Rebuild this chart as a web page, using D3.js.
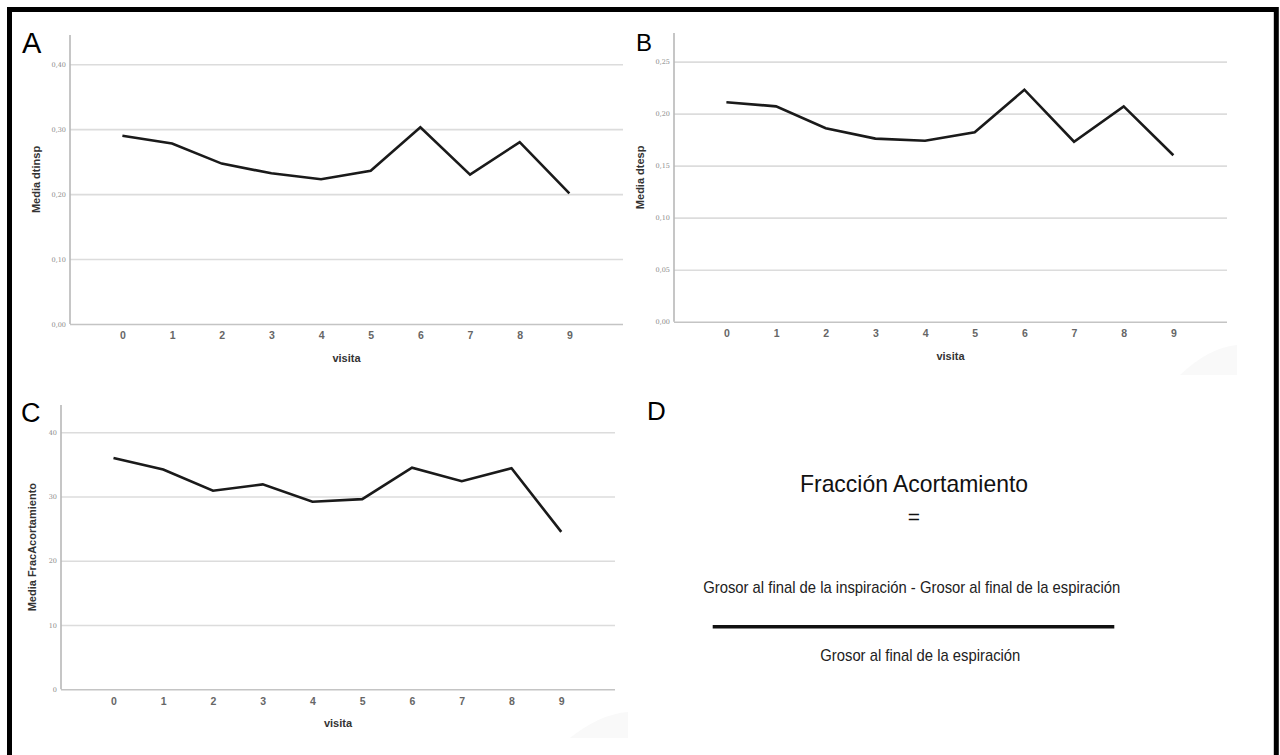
<!DOCTYPE html>
<html>
<head>
<meta charset="utf-8">
<script src="https://cdn.jsdelivr.net/npm/d3@7"></script>
<style>
  body { margin: 0; background: #fff; }
  svg { display: block; font-family: "Liberation Sans", Arial, sans-serif; }
</style>
</head>
<body>
<svg></svg>
<script>
// data
let visitas = [0, 1, 2, 3, 4, 5, 6, 7, 8, 9];
let dtinsp = [0.290, 0.278, 0.247, 0.232, 0.223, 0.236, 0.303, 0.230, 0.280, 0.201];
let dtesp = [0.211, 0.207, 0.186, 0.176, 0.174, 0.182, 0.223, 0.173, 0.207, 0.160];
let fracAcort = [36.0, 34.2, 30.9, 31.9, 29.2, 29.6, 34.5, 32.4, 34.4, 24.5];

let ticksA = [0, 0.1, 0.2, 0.3, 0.4];
let ticksB = [0, 0.05, 0.1, 0.15, 0.2, 0.25];
let ticksC = [0, 10, 20, 30, 40];

let width = 1280;
let height = 755;

let svg = d3.select("svg").attr("width", width).attr("height", height);

let es = d3.formatLocale({ decimal: ",", thousands: ".", grouping: [3], currency: ["", "€"] });

let panels = [
  { letter: "A", lx: 22, ly: 53, lsize: 29, values: dtinsp, ticks: ticksA, yMax: 0.445,
    fmt: es.format(".2f"), title: "Media dtinsp", left: 70, right: 623, top: 35, bottom: 324, titleX: 36 },
  { letter: "B", lx: 636, ly: 50.5, lsize: 24, values: dtesp, ticks: ticksB, yMax: 0.2775,
    fmt: es.format(".2f"), title: "Media dtesp", left: 674, right: 1227, top: 33, bottom: 321.7, titleX: 640 },
  { letter: "C", lx: 21, ly: 422, lsize: 27, values: fracAcort, ticks: ticksC, yMax: 44.25,
    fmt: es.format("d"), title: "Media FracAcortamiento", left: 61, right: 615, top: 405, bottom: 689.3, titleX: 32 }
];

// outer frame
svg.append("path")
  .attr("d", "M9.5,760 V9.5 H1276.3 V760")
  .attr("fill", "none")
  .attr("stroke", "#000")
  .attr("stroke-width", 5);

// faint grey smudges left over in the screenshot
svg.append("path")
  .attr("d", "M1180,375 Q1210,347 1237,345 V375 Z")
  .attr("fill", "#f9f9f9");
svg.append("path")
  .attr("d", "M570,738 Q600,714 628,712 V738 Z")
  .attr("fill", "#f9f9f9");

let drawPanel = p => {
  let g = svg.append("g");

  let xScale = d3.scaleLinear().domain([-1.055, 10.08]).range([p.left, p.right]);
  let yScale = d3.scaleLinear().domain([0, p.yMax]).range([p.bottom, p.top]);

  // gridlines + y labels
  let yAxis = d3.axisLeft(yScale)
    .tickValues(p.ticks)
    .tickFormat(p.fmt)
    .tickSize(-(p.right - p.left))
    .tickPadding(4);

  let yg = g.append("g")
    .attr("transform", "translate(" + p.left + ",0)")
    .call(yAxis);
  yg.select(".domain").remove();
  yg.selectAll(".tick line")
    .attr("stroke", d => (d === 0 ? "#c4c4c4" : "#dcdcdc"))
    .attr("stroke-width", 1.6);
  yg.selectAll(".tick text")
    .attr("font-size", 6.5)
    .attr("fill", "#888")
    .attr("font-family", "'DejaVu Serif', serif");

  // y axis line
  g.append("line")
    .attr("x1", p.left).attr("x2", p.left)
    .attr("y1", p.top).attr("y2", p.bottom)
    .attr("stroke", "#b8b8b8")
    .attr("stroke-width", 1.6);

  // x axis labels
  let xAxis = d3.axisBottom(xScale).tickValues(visitas).tickSize(0).tickPadding(8);
  let xg = g.append("g")
    .attr("transform", "translate(0," + p.bottom + ")")
    .call(xAxis);
  xg.select(".domain").remove();
  xg.selectAll(".tick text")
    .attr("font-size", 10.5)
    .attr("font-weight", "bold")
    .attr("fill", "#666");

  // x title
  g.append("text")
    .attr("x", (p.left + p.right) / 2)
    .attr("y", p.bottom + 38)
    .attr("text-anchor", "middle")
    .attr("font-size", 11)
    .attr("font-weight", "bold")
    .attr("fill", "#333")
    .text("visita");

  // y title
  g.append("text")
    .attr("transform", "translate(" + (p.titleX + 4) + "," + (p.top + p.bottom) / 2 + ") rotate(-90)")
    .attr("text-anchor", "middle")
    .attr("font-size", 11)
    .attr("font-weight", "bold")
    .attr("fill", "#333")
    .text(p.title);

  // line
  let line = d3.line()
    .x((d, i) => xScale(visitas[i]))
    .y(d => yScale(d));

  g.append("path")
    .datum(p.values)
    .attr("d", line)
    .attr("fill", "none")
    .attr("stroke", "#1a1a1a")
    .attr("stroke-width", 2.6)
    .attr("stroke-linejoin", "miter");

  // panel letter
  svg.append("text")
    .attr("x", p.lx)
    .attr("y", p.ly)
    .attr("font-size", p.lsize)
    .attr("fill", "#000")
    .text(p.letter);
};

panels.forEach(drawPanel);

// panel D: formula
let gd = svg.append("g");

gd.append("text")
  .attr("x", 647).attr("y", 419.5)
  .attr("font-size", 26)
  .text("D");

gd.append("text")
  .attr("x", 914).attr("y", 491.5)
  .attr("text-anchor", "middle")
  .attr("font-size", 24)
  .attr("fill", "#111")
  .attr("textLength", 228)
  .attr("lengthAdjust", "spacingAndGlyphs")
  .text("Fracción Acortamiento");

gd.append("text")
  .attr("x", 914).attr("y", 524)
  .attr("text-anchor", "middle")
  .attr("font-size", 21)
  .attr("fill", "#111")
  .text("=");

gd.append("text")
  .attr("x", 911.7).attr("y", 592.5)
  .attr("text-anchor", "middle")
  .attr("font-size", 17)
  .attr("fill", "#222")
  .attr("textLength", 417)
  .attr("lengthAdjust", "spacingAndGlyphs")
  .text("Grosor al final de la inspiración - Grosor al final de la espiración");

gd.append("line")
  .attr("x1", 712.7).attr("x2", 1114.3)
  .attr("y1", 626.7).attr("y2", 626.7)
  .attr("stroke", "#111")
  .attr("stroke-width", 3.5);

gd.append("text")
  .attr("x", 920.3).attr("y", 661)
  .attr("text-anchor", "middle")
  .attr("font-size", 17)
  .attr("fill", "#222")
  .attr("textLength", 200)
  .attr("lengthAdjust", "spacingAndGlyphs")
  .text("Grosor al final de la espiración");
</script>
</body>
</html>
